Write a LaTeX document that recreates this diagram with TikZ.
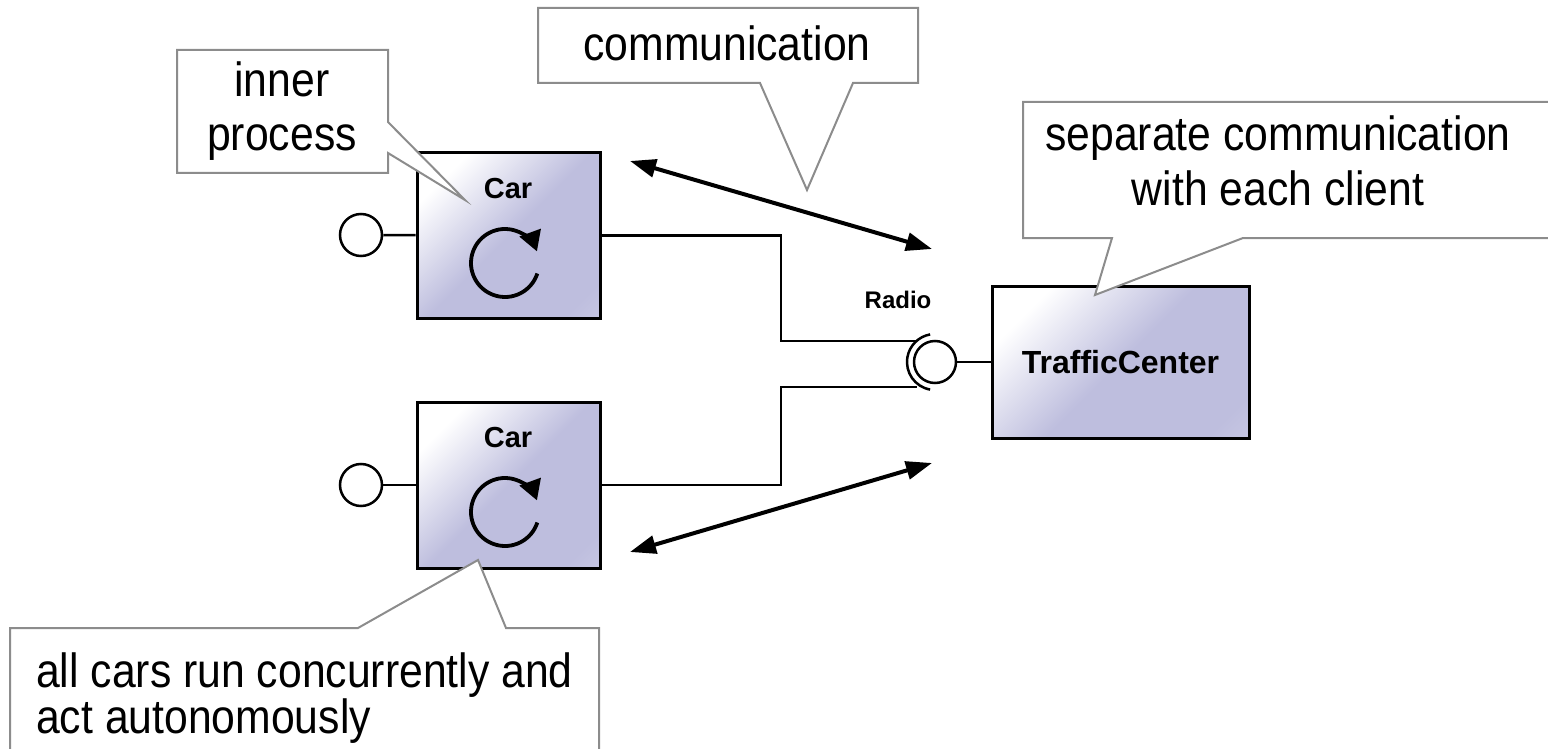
\documentclass[tikz,border=0pt]{standalone}
\usepackage{fontspec}
\setmainfont{Liberation Sans}
\newfontfamily\callfont[FakeStretch=0.89]{Liberation Sans}
\usetikzlibrary{arrows.meta}
\definecolor{boxlav}{RGB}{190,190,222}
\definecolor{boxlight}{RGB}{214,214,236}
\definecolor{callgray}{RGB}{140,140,140}
\pgfdeclarehorizontalshading{boxshade}{100bp}{color(0bp)=(white); color(25bp)=(white); color(50bp)=(boxlav); color(78bp)=(boxlav); color(100bp)=(boxlight)}
\begin{document}
\begin{tikzpicture}[x=1pt,y=-1pt,
  compbox/.style={draw=black, line width=3pt, shading=boxshade, shading angle=-45, inner sep=0pt},
  lolli/.style={circle, draw=black, line width=2.5pt, fill=white, minimum size=42pt, inner sep=0pt},
  wire/.style={line width=2.5pt, draw=black},
  comm/.style={line width=4pt, {Triangle[length=26pt,width=18pt]}-{Triangle[length=26pt,width=18pt]}},
  callout/.style={draw=callgray, line width=2pt, fill=white, line join=miter},
  calltext/.style={font=\callfont\fontsize{48}{54}\selectfont, inner sep=0pt},
  boldlbl/.style={font=\bfseries\fontsize{29}{34}\selectfont, inner sep=0pt},
  spin/.style={line width=3.8pt, -{Triangle[length=20pt,width=22pt]}}
]
\useasboundingbox (0,0) rectangle (1548,749);
\clip (0,0) rectangle (1548,749);

% components
\node[compbox, minimum width=183pt, minimum height=165pt] (car1) at (508.5,235.5) {};
\node[compbox, minimum width=183pt, minimum height=166pt] (car2) at (508.5,485) {};
\node[compbox, minimum width=257pt, minimum height=152pt] (tc) at (1120.5,362) {};
\node[boldlbl] (car1lbl) at (508,189) {Car};
\node[boldlbl] (car2lbl) at (508,438) {Car};
\node[boldlbl, font=\bfseries\fontsize{32}{38}\selectfont] (tclbl) at (1120.5,362) {TrafficCenter};
\node[boldlbl, font=\bfseries\fontsize{24}{30}\selectfont] (radio) at (898,300) {Radio};

% inner process icons
\draw[spin] (505,263) ++(18:34) arc[start angle=18, end angle=340, radius=34];
\draw[spin] (505,512) ++(18:34) arc[start angle=18, end angle=340, radius=34];

% lollipops
\node[lolli] (l1) at (361,235) {};
\node[lolli] (l2) at (361,485) {};
\draw[wire] (l1) -- (car1);
\draw[wire] (l2) -- (car2);

% radio port
\node[lolli] (ball) at (935,362) {};
\draw[wire] (ball) -- (tc);
\draw[wire] (ball.center) ++(100:28) arc[start angle=100, end angle=260, radius=28];
\coordinate (j1) at (781,341);
\coordinate (j2) at (781,387);
\coordinate (s1) at (917,341);
\coordinate (s2) at (917,387);
\draw[wire] (car1.east) -- (car1.east -| j1) -- (j1) -- (s1);
\draw[wire] (car2.east) -- (car2.east -| j2) -- (j2) -- (s2);

% communication arrows
\coordinate (a1s) at (630,161);
\coordinate (a1e) at (932,249);
\coordinate (a2s) at (630,552);
\coordinate (a2e) at (932,463);
\draw[comm] (a1s) -- (a1e);
\draw[comm] (a2s) -- (a2e);

% callouts
\draw[callout] (177,50) -- (388,50) -- (388,122) -- (465,200) -- (388,153) -- (388,173) -- (177,173) -- cycle;
\node[calltext, anchor=base] (inner1) at (282,97) {inner};
\node[calltext, anchor=base] (inner2) at (282,150) {process};

\draw[callout] (538,8) -- (918,8) -- (918,83) -- (853,83) -- (807,190) -- (760,83) -- (538,83) -- cycle;
\node[calltext, anchor=base] (commtxt) at (727,61) {communication};

\draw[callout] (1023,102) -- (1570,102) -- (1570,238) -- (1243,238) -- (1095,295) -- (1112,238) -- (1023,238) -- cycle;
\node[calltext, anchor=base] (sep1) at (1278,150) {separate communication};
\node[calltext, anchor=base] (sep2) at (1278,205) {with each client};

\draw[callout] (10,628) -- (358,628) -- (478,560) -- (506,628) -- (599,628) -- (599,770) -- (10,770) -- cycle;
\node[calltext, anchor=base west] (all1) at (36,687) {all cars run concurrently and};
\node[calltext, anchor=base west] (all2) at (36,733) {act autonomously};
\end{tikzpicture}
\end{document}
